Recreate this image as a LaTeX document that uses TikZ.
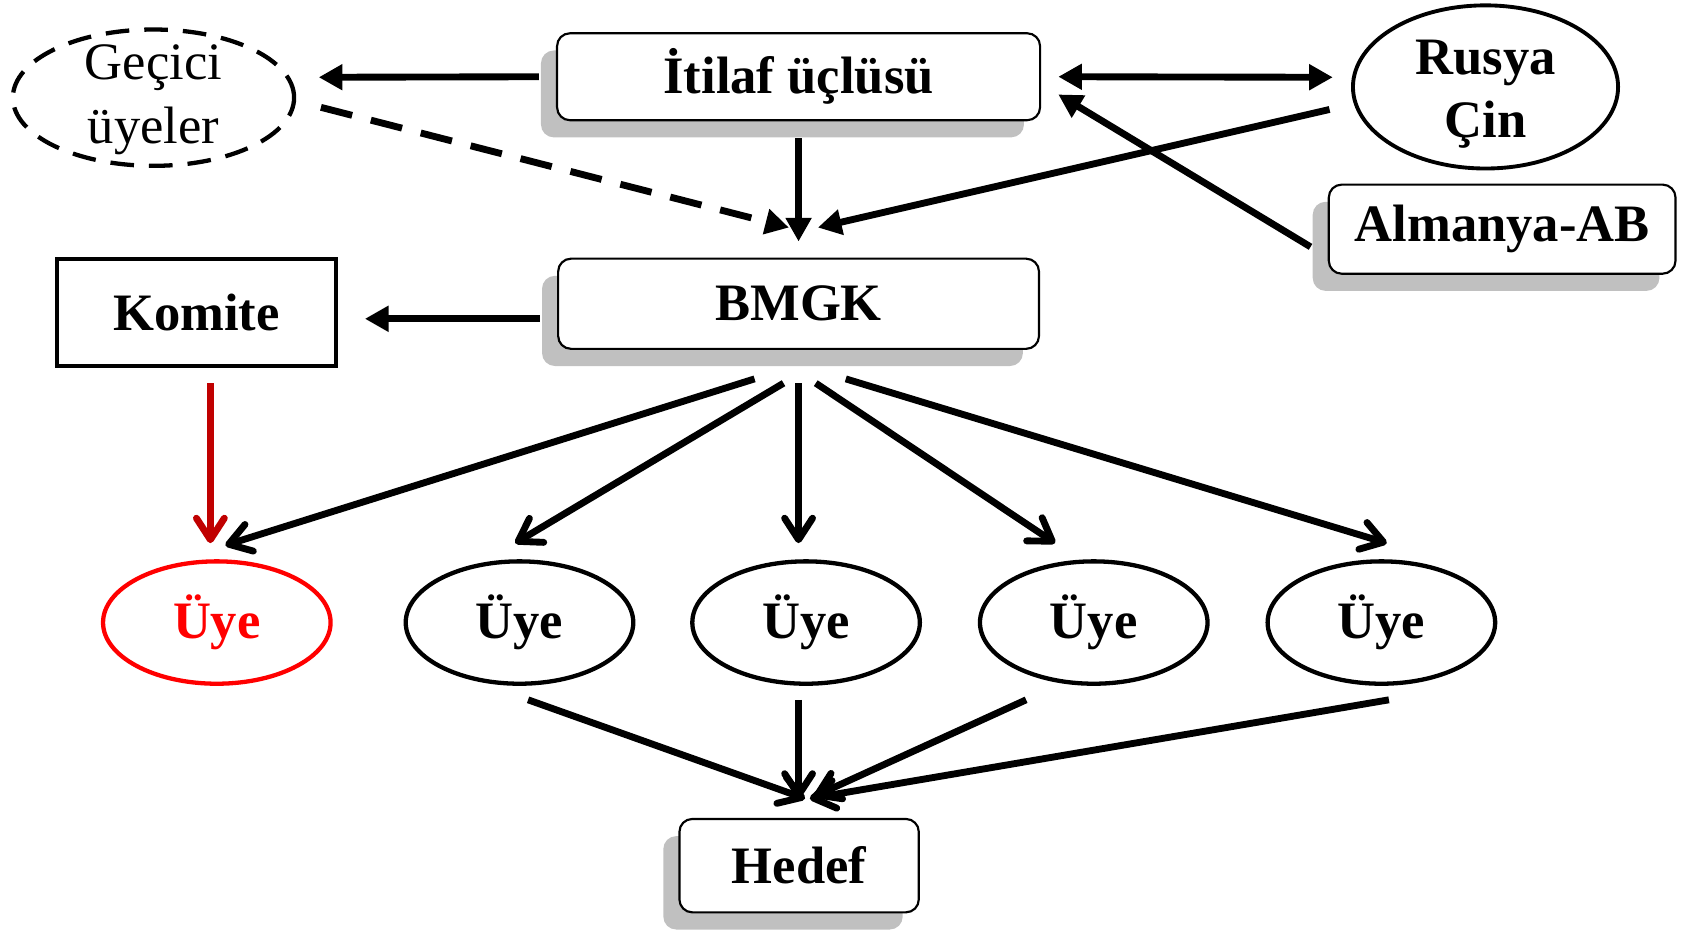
\documentclass[tikz,border=0pt]{standalone}
\usepackage{fontspec}
\setmainfont{Liberation Serif}
\usetikzlibrary{arrows.meta,shapes.geometric,shadows}
\definecolor{shadowgray}{RGB}{192,192,192}
\definecolor{darkred}{RGB}{192,0,0}
\definecolor{brightred}{RGB}{255,0,0}
\begin{document}
\begin{tikzpicture}[x=0.5pt,y=-0.5pt,
  every node/.style={font=\fontsize{24.5}{29}\selectfont\bfseries},
  sbox/.style={draw, line width=1pt, rounded corners=6pt, fill=white, inner sep=0pt,
     drop shadow={shadow xshift=-7.5pt, shadow yshift=-8pt, fill=shadowgray, opacity=1}},
  uye/.style={ellipse, draw, line width=2pt, fill=white, minimum width=106pt, minimum height=57pt, inner sep=0pt},
  arrF/.style={line width=3.2pt, -{Triangle[length=11pt,width=11.5pt]}},
  arrFF/.style={line width=3.2pt, {Triangle[length=11pt,width=11.5pt]}-{Triangle[length=11pt,width=11.5pt]}},
  arrV/.style={line width=3.2pt, -{Straight Barb[length=10pt,width=13pt,round]}},
]
\useasboundingbox (0,0) rectangle (1568,866);

% nodes
\node[sbox, minimum width=225pt, minimum height=40.5pt] (itilaf) at (744,71.5) {İtilaf üçlüsü};
\node[sbox, minimum width=224pt, minimum height=42pt] (bmgk) at (744,283) {BMGK};
\node[sbox, minimum width=161.5pt, minimum height=41.5pt] (almanya) at (1399.5,213.5) {Almanya-AB};
\node[sbox, minimum width=111.5pt, minimum height=43.5pt] (hedef) at (744.5,806.5) {Hedef};
\node[draw, line width=2pt, minimum width=130pt, minimum height=50pt, inner sep=0pt] (komite) at (183,291) {Komite};
\node[ellipse, draw, line width=2pt, dash pattern=on 11pt off 7pt,
      minimum width=131pt, minimum height=63.5pt, inner sep=0pt,
      label={[align=center, yshift=-1pt, font=\fontsize{24.5}{30}\selectfont]center:Geçici\\üyeler}] (gecici) at (143,91) {};
\node[ellipse, draw, line width=1.8pt, minimum width=123.5pt, minimum height=76pt, inner sep=0pt,
      label={[align=center, yshift=-3.5pt, font=\fontsize{24.5}{29.5}\selectfont\bfseries]center:Rusya\\Çin}] (rusya) at (1384,81) {};
\node[uye, draw=brightred, text=brightred] (uye1) at (202,580) {Üye};
\node[uye] (uye2) at (484,580) {Üye};
\node[uye] (uye3) at (751,580) {Üye};
\node[uye] (uye4) at (1019,580) {Üye};
\node[uye] (uye5) at (1287,580) {Üye};

% top connectors
\draw[arrF] ([shift={(-16,0)}]itilaf.west) -- ([shift={(21,-19)}]gecici.east);
\draw[arrF, dash pattern=on 15pt off 9pt] ([shift={(23,9)}]gecici.east) -- ([shift={(-9,-28)}]bmgk.north);
\draw[arrF] ([shift={(0,16)}]itilaf.south) -- ([shift={(0,-15)}]bmgk.north);
\draw[arrFF] ([shift={(16,0)}]itilaf.east) -- ([shift={(-17,-9)}]rusya.west);
\draw[arrF] ([shift={(-20,21)}]rusya.west) -- ([shift={(18,-28)}]bmgk.north);
\draw[arrF] ([shift={(-16,16.5)}]almanya.west) -- ([shift={(16,16.5)}]itilaf.east);
\draw[arrF] ([shift={(-16,14)}]bmgk.west) -- ([shift={(25,6)}]komite.east);

% to members
\draw[arrV, darkred] ([shift={(13,14)}]komite.south) -- ([shift={(-6,-15)}]uye1.north);
\draw[arrV] ([shift={(-41,27)}]bmgk.south) -- ([shift={(8,-13)}]uye1.north);
\draw[arrV] ([shift={(-14,31)}]bmgk.south) -- ([shift={(-4,-15)}]uye2.north);
\draw[arrV] ([shift={(0,31)}]bmgk.south) -- ([shift={(-7,-15)}]uye3.north);
\draw[arrV] ([shift={(16,31)}]bmgk.south) -- ([shift={(-36,-15)}]uye4.north);
\draw[arrV] ([shift={(44,27)}]bmgk.south) -- ([shift={(5,-15)}]uye5.north);

% to target
\draw[arrV] ([shift={(8,13)}]uye2.south) -- ([shift={(5.5,-18)}]hedef.north);
\draw[arrV] ([shift={(-7,13)}]uye3.south) -- ([shift={(-0.5,-18)}]hedef.north);
\draw[arrV] ([shift={(-63,13)}]uye4.south) -- ([shift={(14,-20)}]hedef.north);
\draw[arrV] ([shift={(7,13)}]uye5.south) -- ([shift={(10,-18)}]hedef.north);
\end{tikzpicture}
\end{document}
